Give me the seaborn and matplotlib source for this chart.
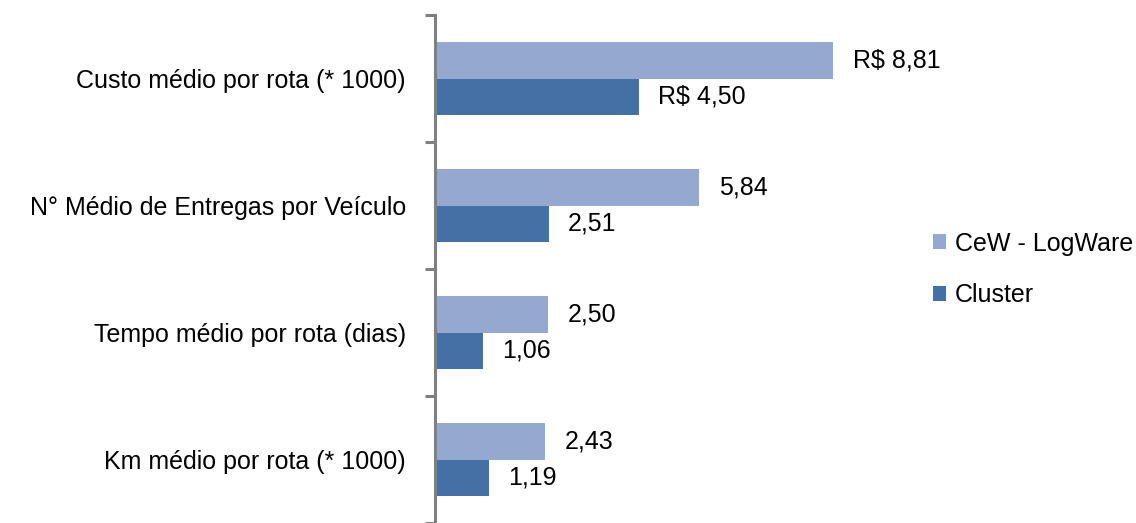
#!/usr/bin/env python3
"""Horizontal bar chart comparing CeW - LogWare against Cluster."""

import matplotlib
matplotlib.use("Agg")
import matplotlib.pyplot as plt
import pandas as pd
import seaborn as sns

categories = ["Custo médio por rota (* 1000)",
              "N° Médio de Entregas por Veículo",
              "Tempo médio por rota (dias)",
              "Km médio por rota (* 1000)"]
series = ["CeW - LogWare", "Cluster"]
cew_values = [8.81, 5.84, 2.50, 2.43]
cluster_values = [4.50, 2.51, 1.06, 1.19]
prefixes = ["R$ ", "", "", ""]
colors = ["#95A9D0", "#4570A6"]


def fmt(v, prefix):
    """Brazilian decimal comma with optional currency prefix."""
    return prefix + f"{v:.2f}".replace(".", ",")


def main():
    sns.set_style("white", {"text.color": "black", "ytick.left": True})
    plt.rcParams["font.family"] = ["Liberation Sans", "DejaVu Sans"]

    df = pd.DataFrame({
        "categoria": categories * 2,
        "serie": [series[0]] * len(categories) + [series[1]] * len(categories),
        "valor": cew_values + cluster_values,
    })

    fig = plt.figure(figsize=(11.36, 5.23), dpi=100)
    ax = fig.add_axes([0.383, 0.0, 0.398, 0.971])
    sns.barplot(data=df, y="categoria", x="valor", hue="serie",
                order=categories, hue_order=series, palette=colors,
                orient="h", width=0.57, saturation=1, ax=ax,
                edgecolor="none", legend=True)

    # Value labels at the end of each bar
    for container, vals in zip(ax.containers, [cew_values, cluster_values]):
        labels = [fmt(v, p) for v, p in zip(vals, prefixes)]
        ax.bar_label(container, labels=labels, padding=14, fontsize=18,
                     color="black")

    # Axes styling
    ax.set_xlim(0, 10)
    ax.set_ylim(len(categories) - 0.5, -0.5)
    ax.set_xlabel("")
    ax.set_ylabel("")
    ax.set_xticks([])
    for side in ("top", "right", "bottom"):
        ax.spines[side].set_visible(False)
    ax.spines["left"].set_color("#808080")
    ax.spines["left"].set_linewidth(2.2)
    ax.set_yticks(range(len(categories)))
    ax.set_yticklabels(categories, fontsize=18, color="black")
    ax.set_yticks([i - 0.5 for i in range(len(categories) + 1)], minor=True)
    ax.tick_params(axis="y", which="major", left=False, length=0, pad=21)
    ax.tick_params(axis="y", which="minor", left=True, length=7, width=2.2,
                   color="#808080", direction="out")

    # Legend on the right
    handles, labels = ax.get_legend_handles_labels()
    ax.legend_.remove()
    leg = fig.legend(handles, labels, loc="center left",
                     bbox_to_anchor=(0.81, 0.485), frameon=False, fontsize=18,
                     handlelength=0.52, handleheight=0.52, handletextpad=0.36,
                     labelspacing=1.1, borderpad=0)
    for t in leg.get_texts():
        t.set_color("black")

    fig.savefig("out.png", dpi=100)


if __name__ == "__main__":
    main()
